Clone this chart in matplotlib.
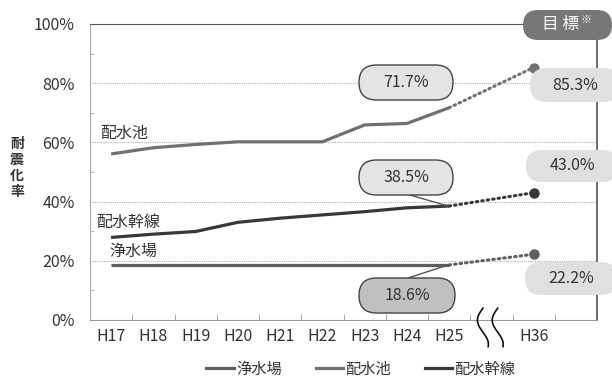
import numpy as np
import matplotlib
matplotlib.use("Agg")
import matplotlib.pyplot as plt
from matplotlib.patches import FancyBboxPatch
from matplotlib.lines import Line2D
from matplotlib.transforms import IdentityTransform

plt.rcParams["font.family"] = ["Noto Sans CJK JP", "DejaVu Sans"]

# ----------------------------
# Data
# ----------------------------
years = ["H17", "H18", "H19", "H20", "H21", "H22", "H23", "H24", "H25"]
target_year = "H36"
jousuijou = [18.6, 18.6, 18.6, 18.6, 18.6, 18.6, 18.6, 18.6, 18.6]
haisuichi = [56.1, 58.2, 59.3, 60.2, 60.2, 60.2, 65.9, 66.4, 71.7]
kansen = [27.9, 29.0, 29.9, 33.0, 34.4, 35.5, 36.6, 37.9, 38.5]
targets = {"浄水場": 22.2, "配水池": 85.3, "配水幹線": 43.0}
y_ticks = [0, 20, 40, 60, 80, 100]

W, H = 612, 376
C_JOU = "#5e5e5e"
C_HAI = "#707070"
C_KAN = "#383838"
TXT = "#333333"

fig = plt.figure(figsize=(W / 100, H / 100), dpi=100)
ax = fig.add_axes([90 / W, (H - 320) / H, 507 / W, 296 / H])

x = np.arange(len(years))
x_target = len(years) + 1   # one blank slot for the break

series = [
    ("浄水場", jousuijou, C_JOU),
    ("配水池", haisuichi, C_HAI),
    ("配水幹線", kansen, C_KAN),
]
for name, vals, col in series:
    ax.plot(x, vals, color=col, lw=2.3, solid_capstyle="butt", zorder=3)
    ax.plot([x[-1], x_target], [vals[-1], targets[name]], color=col, lw=2.2,
            linestyle=(0, (0.5, 1.3)), dash_capstyle="round", zorder=3)
    ax.plot([x_target], [targets[name]], "o", color=col, ms=6.5, zorder=4)

# axes formatting
ax.set_xlim(-0.5, 11.5)
ax.set_ylim(0, 100)
ax.set_xticks(list(x) + [x_target])
ax.set_xticklabels(years + [target_year], fontsize=11.5, color=TXT)
ax.set_xticks(np.arange(-0.5, 12, 1), minor=True)
ax.tick_params(axis="x", which="major", length=0, pad=6)
ax.tick_params(axis="x", which="minor", length=4, direction="in", color="#999999")

ax.set_yticks(y_ticks)
ax.set_yticklabels([f"{v}%" for v in y_ticks], fontsize=11.5, color=TXT)
ax.set_yticks([10, 30, 50, 70, 90], minor=True)
ax.tick_params(axis="y", which="major", length=0, pad=11)
ax.tick_params(axis="y", which="minor", length=3, direction="in", color="#aaaaaa")
for v in y_ticks[1:-1]:
    ax.axhline(v, color="#b0b0b0", lw=0.8, ls=(0, (1, 1)), zorder=1)

ax.spines["left"].set_color("#aaaaaa")
ax.spines["bottom"].set_color("#999999")
ax.spines["top"].set_color("#555555")
ax.spines["right"].set_color("#555555")
ax.spines["right"].set_linewidth(1.2)

# wavy break marks
t = np.linspace(0, 1, 60)
for off in (-0.2, 0.15):
    xs = x_target - 1 + off - 0.13 * np.sin(1.6 * np.pi * t)
    ys = 4 - 13 * t
    ax.plot(xs, ys, color="#111111", lw=1.2, clip_on=False, zorder=5)

# series labels
ax.text(-0.25, 61.5, "配水池", fontsize=11.5, color=TXT)
ax.text(-0.35, 31.3, "配水幹線", fontsize=11.5, color=TXT)
ax.text(-0.05, 21.7, "浄水場", fontsize=11.5, color=TXT)

# y label
fig.text(17 / W, 1 - 168 / H, "耐\n震\n化\n率", fontsize=10, fontweight="bold",
         color=TXT, ha="center", va="center", linespacing=1.2)


def pbox(left, top, w, h, text, fc, ec=None, tc=TXT, fs=11.5):
    patch = FancyBboxPatch((left, H - top - h), w, h,
                           boxstyle=f"round,pad=0,rounding_size={h / 2}",
                           mutation_scale=1, transform=IdentityTransform(),
                           fc=fc, ec=ec if ec else "none", lw=1.0, zorder=10)
    fig.patches.append(patch)
    fig.text((left + w / 2) / W, 1 - (top + h / 2) / H, text, fontsize=fs,
             color=tc, ha="center", va="center", zorder=11)


def tail(x0, y0, x1, y1):
    fig.add_artist(Line2D([x0 / W, x1 / W], [1 - y0 / H, 1 - y1 / H],
                          color="#555555", lw=1.0, transform=fig.transFigure))


pbox(359, 65, 94, 35, "71.7%", "#e4e4e4", ec="#444444")
pbox(530, 68, 90, 34, "85.3%", "#e0e0e0")
tail(410, 195, 448, 206)
pbox(359, 160, 94, 35, "38.5%", "#e4e4e4", ec="#444444")
pbox(526, 150, 92, 32, "43.0%", "#e0e0e0")
tail(408, 278, 448, 265)
pbox(359, 278, 96, 35, "18.6%", "#c0c0c0", ec="#444444")
pbox(525, 262, 92, 33, "22.2%", "#e0e0e0")
pbox(523, 10, 89, 30, "", "#777777")
fig.text(560 / W, 1 - 25 / H, "目 標", fontsize=12, color="white",
         ha="center", va="center", zorder=12)
fig.text(586 / W, 1 - 20 / H, "※", fontsize=8, color="white",
         ha="center", va="center", zorder=12)

# legend
handles = [Line2D([], [], color=c, lw=2.3) for _, _, c in series]
fig.legend(handles, [n for n, _, _ in series], loc="center",
           bbox_to_anchor=(361 / W, 1 - 369 / H), ncol=3, frameon=False,
           fontsize=11, handlelength=1.8, handletextpad=0.15,
           columnspacing=2.2, labelcolor=TXT)

fig.savefig("out.png", dpi=100)
